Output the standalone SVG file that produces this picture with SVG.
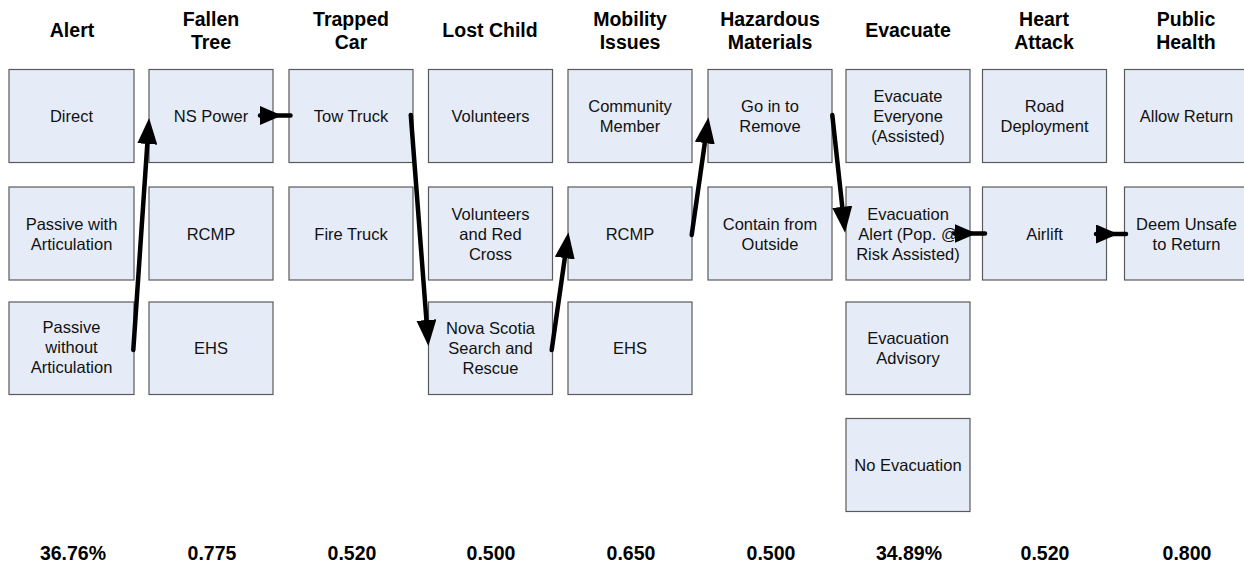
<svg xmlns="http://www.w3.org/2000/svg" width="1244" height="569" viewBox="0 0 1244 569">
<style>
.box{fill:#e6ecf7;stroke:#5a5a5a;stroke-width:1.2}
.t{font-family:"Liberation Sans",Arial,sans-serif;font-size:16.5px;fill:#111;text-anchor:middle}
.h{font-family:"Liberation Sans",Arial,sans-serif;font-size:19.5px;font-weight:bold;fill:#000;text-anchor:middle}
.n{font-family:"Liberation Sans",Arial,sans-serif;font-size:19.5px;font-weight:bold;fill:#000;text-anchor:middle}
.c{fill:none;stroke:#000;stroke-width:4.5;stroke-linecap:round}
</style>
<defs>
<marker id="ah" markerUnits="userSpaceOnUse" markerWidth="26" markerHeight="20" viewBox="0 0 26 20" refX="5" refY="10" orient="auto"><path d="M0,0 L26,10 L0,20 z" fill="#000"/></marker>
<marker id="as" markerUnits="userSpaceOnUse" markerWidth="22" markerHeight="19" viewBox="0 0 22 19" refX="0" refY="9.5" orient="auto"><path d="M0,0 L22,9.5 L0,19 z" fill="#000"/></marker>
</defs>

<g id="headers">
<text class="h" x="72" y="37">Alert</text>
<text class="h" x="211" y="25.5">Fallen</text><text class="h" x="211" y="49">Tree</text>
<text class="h" x="351" y="25.5">Trapped</text><text class="h" x="351" y="49">Car</text>
<text class="h" x="490" y="37">Lost Child</text>
<text class="h" x="630" y="25.5">Mobility</text><text class="h" x="630" y="49">Issues</text>
<text class="h" x="770" y="25.5">Hazardous</text><text class="h" x="770" y="49">Materials</text>
<text class="h" x="908" y="37">Evacuate</text>
<text class="h" x="1044" y="25.5">Heart</text><text class="h" x="1044" y="49">Attack</text>
<text class="h" x="1186" y="25.5">Public</text><text class="h" x="1186" y="49">Health</text>
</g>

<g id="n-direct"><rect class="box" x="9" y="69.5" width="125" height="93"/><text class="t" x="71.5" y="122">Direct</text></g>
<g id="n-passive-with"><rect class="box" x="9" y="187" width="125" height="93"/><text class="t" x="71.5" y="229.5">Passive with</text><text class="t" x="71.5" y="249.5">Articulation</text></g>
<g id="n-passive-without"><rect class="box" x="9" y="302" width="125" height="92.5"/><text class="t" x="71.5" y="333">Passive</text><text class="t" x="71.5" y="353">without</text><text class="t" x="71.5" y="373">Articulation</text></g>

<g id="n-nspower"><rect class="box" x="149" y="69.5" width="124" height="93"/><text class="t" x="211" y="122">NS Power</text></g>
<g id="n-rcmp1"><rect class="box" x="149" y="187" width="124" height="93"/><text class="t" x="211" y="239.5">RCMP</text></g>
<g id="n-ehs1"><rect class="box" x="149" y="302" width="124" height="92.5"/><text class="t" x="211" y="354">EHS</text></g>

<g id="n-towtruck"><rect class="box" x="289" y="69.5" width="124" height="93"/><text class="t" x="351" y="122">Tow Truck</text></g>
<g id="n-firetruck"><rect class="box" x="289" y="187" width="124" height="93"/><text class="t" x="351" y="239.5">Fire Truck</text></g>

<g id="n-volunteers"><rect class="box" x="428.5" y="69.5" width="124" height="93"/><text class="t" x="490.5" y="122">Volunteers</text></g>
<g id="n-volred"><rect class="box" x="428.5" y="187" width="124" height="93"/><text class="t" x="490.5" y="219.5">Volunteers</text><text class="t" x="490.5" y="239.5">and Red</text><text class="t" x="490.5" y="259.5">Cross</text></g>
<g id="n-nssar"><rect class="box" x="428.5" y="302" width="124" height="92.5"/><text class="t" x="490.5" y="333.5">Nova Scotia</text><text class="t" x="490.5" y="353.5">Search and</text><text class="t" x="490.5" y="373.5">Rescue</text></g>

<g id="n-community"><rect class="box" x="568" y="69.5" width="124" height="93"/><text class="t" x="630" y="112">Community</text><text class="t" x="630" y="132">Member</text></g>
<g id="n-rcmp2"><rect class="box" x="568" y="187" width="124" height="93"/><text class="t" x="630" y="239.5">RCMP</text></g>
<g id="n-ehs2"><rect class="box" x="568" y="302" width="124" height="92.5"/><text class="t" x="630" y="354">EHS</text></g>

<g id="n-goin"><rect class="box" x="708" y="69.5" width="124" height="93"/><text class="t" x="770" y="112">Go in to</text><text class="t" x="770" y="132">Remove</text></g>
<g id="n-contain"><rect class="box" x="708" y="187" width="124" height="93"/><text class="t" x="770" y="229.5">Contain from</text><text class="t" x="770" y="249.5">Outside</text></g>

<g id="n-evac-everyone"><rect class="box" x="846" y="69.5" width="124" height="93"/><text class="t" x="908" y="101.5">Evacuate</text><text class="t" x="908" y="121.5">Everyone</text><text class="t" x="908" y="141.5">(Assisted)</text></g>
<g id="n-evac-alert"><rect class="box" x="846" y="187" width="124" height="93"/><text class="t" x="908" y="219.5">Evacuation</text><text class="t" x="908" y="239.5">Alert (Pop. @</text><text class="t" x="908" y="259.5">Risk Assisted)</text></g>
<g id="n-evac-advisory"><rect class="box" x="846" y="302" width="124" height="92.5"/><text class="t" x="908" y="343.5">Evacuation</text><text class="t" x="908" y="363.5">Advisory</text></g>
<g id="n-no-evac"><rect class="box" x="846" y="418.5" width="124" height="93"/><text class="t" x="908" y="471">No Evacuation</text></g>

<g id="n-road"><rect class="box" x="982.5" y="69.5" width="124" height="93"/><text class="t" x="1044.5" y="112">Road</text><text class="t" x="1044.5" y="132">Deployment</text></g>
<g id="n-airlift"><rect class="box" x="982.5" y="187" width="124" height="93"/><text class="t" x="1044.5" y="239.5">Airlift</text></g>

<g id="n-allow"><rect class="box" x="1124.5" y="69.5" width="124" height="93"/><text class="t" x="1186.5" y="122">Allow Return</text></g>
<g id="n-deem"><rect class="box" x="1124.5" y="187" width="124" height="93"/><text class="t" x="1186.5" y="229.5">Deem Unsafe</text><text class="t" x="1186.5" y="249.5">to Return</text></g>

<g id="connectors">
<path class="c" d="M133.3,350 L147.66,138.96" marker-end="url(#ah)"/>
<path class="c" d="M260,115.5 L290.5,115.5" marker-start="url(#as)"/>
<path class="c" d="M410.8,115 L426.8,325.06" marker-end="url(#ah)"/>
<path class="c" d="M551.7,350 L565.5,253.1" marker-end="url(#ah)"/>
<path class="c" d="M691.7,235 L705.5,138.1" marker-end="url(#ah)"/>
<path class="c" d="M832.3,115 L842.8,211.8" marker-end="url(#ah)"/>
<path class="c" d="M954.5,233.5 L985,233.5" marker-start="url(#as)"/>
<path class="c" d="M1096,234 L1126,234" marker-start="url(#as)"/>
</g>

<g id="values">
<text class="n" x="73" y="560">36.76%</text>
<text class="n" x="212" y="560">0.775</text>
<text class="n" x="352" y="560">0.520</text>
<text class="n" x="491" y="560">0.500</text>
<text class="n" x="631" y="560">0.650</text>
<text class="n" x="771" y="560">0.500</text>
<text class="n" x="909" y="560">34.89%</text>
<text class="n" x="1045" y="560">0.520</text>
<text class="n" x="1187" y="560">0.800</text>
</g>
</svg>
